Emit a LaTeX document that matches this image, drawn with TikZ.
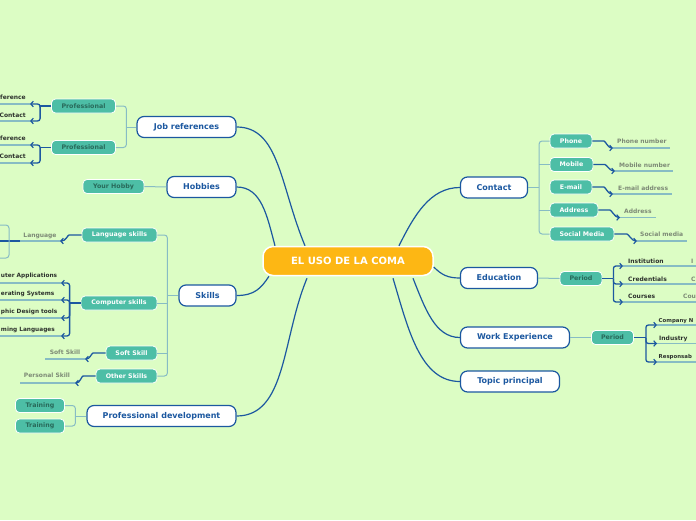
\documentclass[tikz,border=0pt]{standalone}
\usepackage{fontspec}
\setmainfont{DejaVu Sans}
\usetikzlibrary{arrows.meta,calc}
\definecolor{bg}{RGB}{220,253,196}
\definecolor{corange}{RGB}{253,183,20}
\definecolor{mblue}{RGB}{28,88,160}
\definecolor{tealf}{RGB}{77,190,166}
\definecolor{tealt}{RGB}{40,105,90}
\definecolor{litec}{RGB}{135,188,196}
\definecolor{gtx}{RGB}{125,138,118}
\definecolor{dtx}{RGB}{45,50,45}
\begin{document}
\begin{tikzpicture}[x=1pt,y=-1pt,
 mainnode/.style={draw=mblue,line width=1.2pt,fill=white,rounded corners=7pt,text=mblue,font=\bfseries\fontsize{8}{9}\selectfont,minimum height=21pt,minimum width=#1,inner sep=0pt},
 subw/.style={draw=white,line width=0.8pt,fill=tealf,rounded corners=4pt,text=white,font=\bfseries\fontsize{6.3}{7}\selectfont,minimum height=14pt,minimum width=#1,inner sep=0pt},
 subd/.style={subw=#1,text=tealt},
 mline/.style={draw=mblue,line width=1.2pt},
 lline/.style={draw=litec,line width=1pt,rounded corners=3pt},
 uline/.style={draw=litec,line width=1.3pt},
 dline/.style={draw=mblue,line width=1.3pt,rounded corners=2.5pt},
 darr/.style={dline,-{Straight Barb[length=2.5pt,width=5.5pt,line width=1.2pt]}},
 dtext/.style={text=dtx,font=\bfseries\fontsize{6}{7}\selectfont,inner sep=0pt},
 dtextc/.style={text=dtx,font=\bfseries\fontsize{5.8}{7}\selectfont,inner sep=0pt},
 dtexts/.style={text=dtx,font=\bfseries\fontsize{5.4}{6.5}\selectfont,inner sep=0pt},
 gtext/.style={text=gtx,font=\bfseries\fontsize{6}{7}\selectfont,inner sep=0pt},
]
\fill[bg] (0,0) rectangle (696,520);
\useasboundingbox (0,0) rectangle (696,520);
\clip (0,0) rectangle (696,520);

% centre
\node[draw=white,line width=1.5pt,fill=corange,rounded corners=10pt,text=white,font=\bfseries\fontsize{10}{12}\selectfont,minimum width=170pt,minimum height=29pt,inner sep=0pt] (c) at (348,261) {EL USO DE LA COMA};

% main topics
\node[mainnode=99pt] (jr) at (186.5,127) {Job references};
\node[mainnode=69pt] (hob) at (201.5,187) {Hobbies};
\node[mainnode=57pt] (sk) at (207.5,295.5) {Skills};
\node[mainnode=149pt] (pd) at (161.5,416) {Professional development};
\node[mainnode=67pt] (ct) at (494,187.5) {Contact};
\node[mainnode=77pt] (ed) at (499,278) {Education};
\node[mainnode=109pt] (we) at (515,337.5) {Work Experience};
\node[mainnode=99pt] (tp) at (510,381.5) {Topic principal};

% centre connectors
\draw[mline] ($(c.north)+(-43,0)$) .. controls +(-25,-60) and +(43,0) .. (jr.east);
\draw[mline] ($(c.north)+(-73,0)$) .. controls +(-8,-30) and +(25,0) .. (hob.east);
\draw[mline] ($(c.south)+(-79,0)$) .. controls +(-8,12) and +(18,0) .. (sk.east);
\draw[mline] ($(c.south)+(-41,2)$) .. controls +(-25,60) and +(50,0) .. (pd.east);
\draw[mline] ($(c.north)+(51,0)$) .. controls +(15,-30) and +(-30,0) .. (ct.west);
\draw[mline] ($(c.east)+(0,6)$) .. controls +(8,8) and +(-12,0) .. (ed.west);
\draw[mline] ($(c.south)+(65,2)$) .. controls +(12,30) and +(-25,0) .. (we.west);
\draw[mline] ($(c.south)+(45,2)$) .. controls +(15,50) and +(-40,0) .. (tp.west);

% Job references
\node[subd=64pt] (p1) at (83.5,106) {Professional};
\node[subd=64pt] (p2) at (83.5,147.5) {Professional};
\coordinate (jrb) at ($(jr.west)+(-10,0)$);
\draw[lline] (p1.east) -| (jrb) |- (p2.east);
\draw[lline] (jr.west) -- (jrb);
\coordinate (r1) at (30,104);
\coordinate (r2) at (30,121);
\coordinate (r3) at (30,145);
\coordinate (r4) at (30,163);
\foreach \r in {r1,r2,r3,r4} {\draw[uline] (\r) -- ++(-32,0);}
\coordinate (p1b) at ($(p1.west)+(-11,0)$);
\coordinate (p2b) at ($(p2.west)+(-11,0)$);
\draw[dline] (p1.west) -- (p1b);
\draw[darr] (p1b) |- (r1);
\draw[darr] (p1b) |- (r2);
\draw[dline] (p2.west) -- (p2b);
\draw[darr] (p2b) |- (r3);
\draw[darr] (p2b) |- (r4);
\node[dtext,anchor=base east] (t1) at (26,99.5) {ference};
\node[dtext,anchor=base east] (t2) at (26,117) {Contact};
\node[dtext,anchor=base east] (t3) at (26,140.5) {ference};
\node[dtext,anchor=base east] (t4) at (26,158.5) {Contact};

% Hobbies
\node[subd=61pt] (yh) at (113.5,186.5) {Your Hobby};
\draw[lline] (hob.west) -- (yh.east);

% Skills
\node[subw=75pt] (ls) at (119.5,235) {Language skills};
\node[subw=76pt] (cs) at (119,303) {Computer skills};
\node[subw=51pt] (ss) at (131.5,353) {Soft Skill};
\node[subw=61pt] (os) at (126.5,376) {Other Skills};
\coordinate (skb) at ($(sk.west)+(-11,0)$);
\draw[lline] (ls.east) -| (skb) |- (os.east);
\draw[lline] (sk.west) -- (skb);
\draw[lline] (cs.east) -- (cs.east -| skb);
\draw[lline] (ss.east) -- (ss.east -| skb);

% Language
\coordinate (la) at (60,241);
\coordinate (la0) at (20,241);
\coordinate (la1) at (0,241);
\draw[uline] (la) -- (la0);
\draw[dline] (la0) -- (la1);
\draw[darr] (ls.west) -- ++(-10,0) .. controls +(-4,0) and +(6,0) .. (la);
\node[gtext,anchor=base] (lat) at (40,237) {Language};
\coordinate (lb1) at (-4,225);
\coordinate (lb2) at (-4,258);
\draw[lline] (lb1) -- ++(13,0) -- ++(0,33) -- (lb2);

% Computer skills
\coordinate (c1) at (61,283);
\coordinate (c2) at (61,300);
\coordinate (c3) at (61,318);
\coordinate (c4) at (61,336);
\foreach \r in {c1,c2,c3,c4} {\draw[uline] (\r) -- ++(-63,0);}
\coordinate (csb) at ($(cs.west)+(-11,0)$);
\draw[dline] (cs.west) -- (csb);
\draw[darr] (csb) |- (c1);
\draw[darr] (csb) |- (c2);
\draw[darr] (csb) |- (c3);
\draw[darr] (csb) |- (c4);
\node[dtextc,anchor=base west] (ct1) at (0.8,277.5) {uter Applications};
\node[dtextc,anchor=base west] (ct2) at (0.8,295.5) {erating Systems};
\node[dtextc,anchor=base west] (ct3) at (0.8,313) {phic Design tools};
\node[dtextc,anchor=base west] (ct4) at (0.8,331.5) {ming Languages};

% Soft skill / other
\coordinate (so) at (85,359);
\draw[uline] (so) -- ++(-40,0);
\draw[darr] (ss.west) -- ++(-10,0) .. controls +(-4,0) and +(5,0) .. (so);
\node[gtext,anchor=base] (sot) at (65,354) {Soft Skill};
\coordinate (pe) at (75,383);
\draw[uline] (pe) -- ++(-55,0);
\draw[darr] (os.west) -- ++(-10,0) .. controls +(-4,0) and +(5,0) .. (pe);
\node[gtext,anchor=base] (pet) at (47,377.5) {Personal Skill};

% Professional development
\node[subd=49pt] (tr1) at (40,405.5) {Training};
\node[subd=49pt] (tr2) at (40,426) {Training};
\coordinate (pdb) at ($(pd.west)+(-11,0)$);
\draw[lline] (tr1.east) -| (pdb) |- (tr2.east);
\draw[lline] (pd.west) -- (pdb);

% Contact
\node[subw=42pt] (ph) at (571,141) {Phone};
\node[subw=43pt] (mo) at (571.5,164.5) {Mobile};
\node[subw=42pt] (em) at (571,187) {E-mail};
\node[subw=48pt] (ad) at (574,210) {Address};
\node[subw=64pt] (sm) at (582,234) {Social Media};
\coordinate (ctb) at ($(ct.east)+(11,0)$);
\draw[lline] (ph.west) -| (ctb) |- (sm.west);
\draw[lline] (ct.east) -- (ctb);
\draw[lline] (mo.west) -- (mo.west -| ctb);
\draw[lline] (ad.west) -- (ad.west -| ctb);
\coordinate (e1) at (613,148);
\coordinate (e2) at (615,171);
\coordinate (e3) at (613,194);
\coordinate (e4) at (620,217.5);
\coordinate (e5) at (637,241);
\draw[uline] (e1) -- ++(57,0);
\draw[uline] (e2) -- ++(58,0);
\draw[uline] (e3) -- ++(59,0);
\draw[uline] (e4) -- ++(36,0);
\draw[uline] (e5) -- ++(50,0);
\draw[darr] (ph.east) -- ++(9,0) .. controls +(4,0) and +(-5,0) .. (e1);
\draw[darr] (mo.east) -- ++(9,0) .. controls +(4,0) and +(-5,0) .. (e2);
\draw[darr] (em.east) -- ++(9,0) .. controls +(4,0) and +(-5,0) .. (e3);
\draw[darr] (ad.east) -- ++(9,0) .. controls +(4,0) and +(-5,0) .. (e4);
\draw[darr] (sm.east) -- ++(10,0) .. controls +(4,0) and +(-5,0) .. (e5);
\node[gtext,anchor=base west] (g1) at (617,143.5) {Phone number};
\node[gtext,anchor=base west] (g2) at (619,167) {Mobile number};
\node[gtext,anchor=base west] (g3) at (618,190) {E-mail address};
\node[gtext,anchor=base west] (g4) at (624,213) {Address};
\node[gtext,anchor=base west] (g5) at (640,236.5) {Social media};

% Education
\node[subd=42pt] (pe1) at (581,278.5) {Period};
\draw[lline] (ed.east) -- (pe1.west);
\coordinate (eb) at ($(pe1.east)+(11,0)$);
\coordinate (f1) at (623,266);
\coordinate (f2) at (623,284);
\coordinate (f3) at (623,302);
\foreach \r in {f1,f2,f3} {\draw[uline] (\r) -- ++(80,0);}
\draw[dline] (pe1.east) -- (eb);
\draw[darr] (eb) |- (f1);
\draw[darr] (eb) |- (f2);
\draw[darr] (eb) |- (f3);
\node[dtext,anchor=base west] (ft1) at (628,263) {Institution};
\node[dtext,anchor=base west] (ft2) at (628,281) {Credentials};
\node[dtext,anchor=base west] (ft3) at (628,298.5) {Courses};
\node[gtext,anchor=base west] (fg1) at (691,263) {I};
\node[gtext,anchor=base west] (fg2) at (691,281) {C};
\node[gtext,anchor=base west] (fg3) at (683,298.5) {Cou};

% Work experience
\node[subd=42pt] (pe2) at (612.5,337.5) {Period};
\draw[lline] (we.east) -- (pe2.west);
\coordinate (wb) at ($(pe2.east)+(12,0)$);
\coordinate (w1) at (657,325);
\coordinate (w2) at (657,343.5);
\coordinate (w3) at (657,362);
\foreach \r in {w1,w2,w3} {\draw[uline] (\r) -- ++(50,0);}
\draw[dline] (pe2.east) -- (wb);
\draw[darr] (wb) |- (w1);
\draw[darr] (wb) |- (w2);
\draw[darr] (wb) |- (w3);
\node[dtexts,anchor=base west] (wt1) at (658.5,322) {Company N};
\node[dtext,anchor=base west] (wt2) at (659,340) {Industry};
\node[dtexts,anchor=base west] (wt3) at (658.5,358) {Responsab};
\end{tikzpicture}
\end{document}
